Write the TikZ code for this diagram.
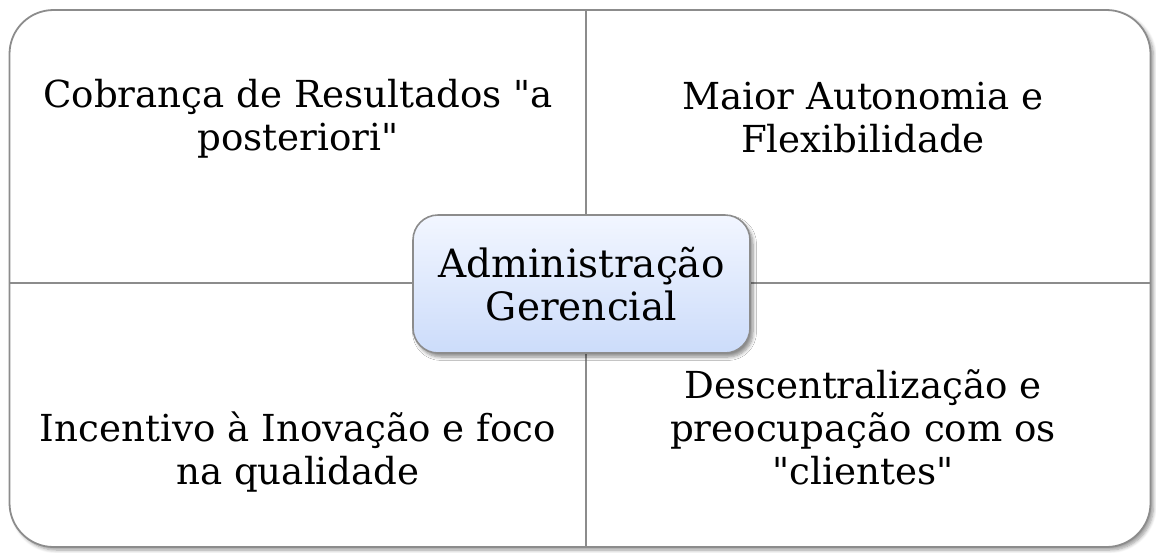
\documentclass[tikz,border=0pt]{standalone}
\usepackage{fontspec}
\newfontfamily\diagfont{DejaVu Serif}
\usetikzlibrary{shadows,shadows.blur}
\definecolor{frame}{HTML}{8C8C8C}
\definecolor{boxtop}{HTML}{F2F6FF}
\definecolor{boxbot}{HTML}{CCDCFA}
\begin{document}
\begin{tikzpicture}[x=0.5pt,y=-0.5pt,
  quadtext/.style={align=center,font=\diagfont\fontsize{18.6}{21.5}\selectfont,inner sep=0pt},
  divider/.style={draw=frame,line width=1pt}]
\useasboundingbox (0,0) rectangle (1156,552);
% outer frame
\node[draw=frame,line width=0.9pt,rounded corners=22pt,fill=white,
  minimum width=570.5pt,minimum height=268.5pt,inner sep=0pt,
  blur shadow={shadow xshift=1.5pt,shadow yshift=-1.5pt,shadow blur steps=6,shadow opacity=40}]
  (frame) at (580,278.5) {};
\coordinate (vt) at (586,10);
\coordinate (vb) at (586,547);
\coordinate (hl) at (10,283);
\coordinate (hr) at (1151,283);
\draw[divider] (vt) -- (vb);
\draw[divider] (hl) -- (hr);
% quadrant texts
\node[quadtext] (tl) at (298,119) {Cobrança de Resultados "a\\posteriori"};
\node[quadtext] (tr) at (863,118) {Maior Autonomia e\\Flexibilidade};
\node[quadtext] (bl) at (298,452) {Incentivo à Inovação e foco\\na qualidade};
\node[quadtext] (br) at (863,427) {Descentralização e\\preocupação com os\\"clientes"};
% center
\node[draw=frame,line width=0.8pt,rounded corners=12.5pt,
  top color=boxtop,bottom color=boxbot,
  minimum width=168.5pt,minimum height=69pt,inner sep=0pt,
  align=center,font=\diagfont\fontsize{19.5}{21.5}\selectfont,
  blur shadow={shadow xshift=1.5pt,shadow yshift=-2pt,shadow blur steps=6,shadow opacity=45}]
  (c) at (581.5,284) {Administração\\Gerencial};
\end{tikzpicture}
\end{document}
